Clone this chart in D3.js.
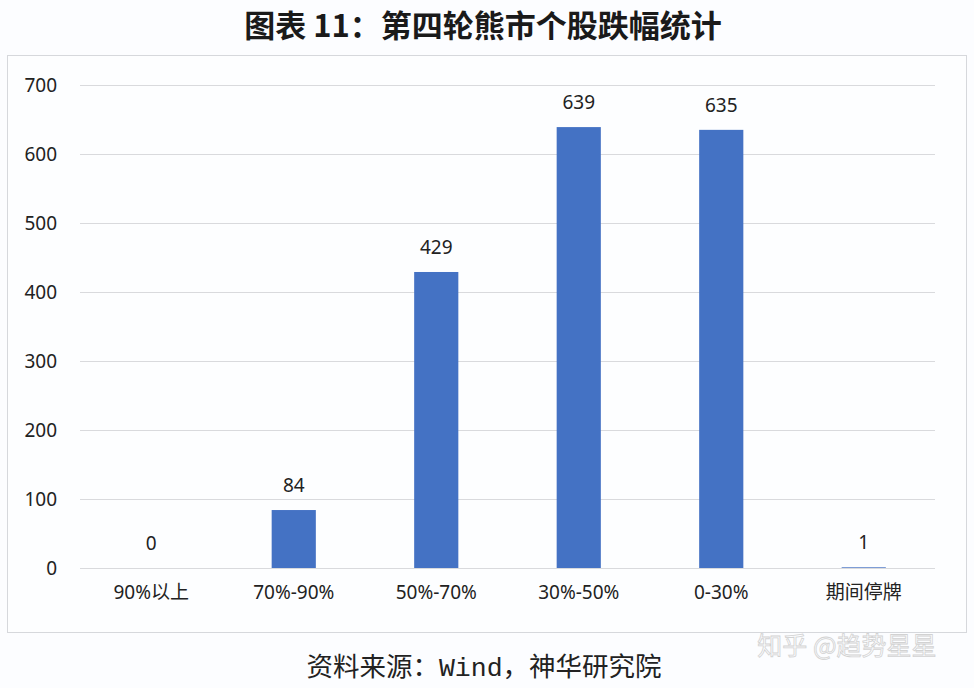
<!DOCTYPE html>
<html><head><meta charset="utf-8">
<script src="https://cdn.jsdelivr.net/npm/d3@7"></script>
<style>
html,body{margin:0;padding:0;background:#fcfdff;}
svg{display:block;}
</style></head>
<body>
<svg id="chart" width="974" height="688"></svg>
<script>
const categories = ["90%以上", "70%-90%", "50%-70%", "30%-50%", "0-30%", "期间停牌"];
const values = [0, 84, 429, 639, 635, 1];
const yTicks = [0, 100, 200, 300, 400, 500, 600, 700];
const title = "图表 11：第四轮熊市个股跌幅统计";

const svg = d3.select("#chart");
const W = 974, H = 688;
const m = {left: 80, right: 39, top: 85, bottom: 120};
const x = d3.scaleBand().domain(categories).range([m.left, W - m.right]).paddingInner(0.69).paddingOuter(0.345);
const y = d3.scaleLinear().domain([0, 700]).range([568, 85]);

// chart frame
svg.append("rect").attr("x", 7.5).attr("y", 55.5).attr("width", 959).attr("height", 577)
  .attr("fill", "#fdfeff").attr("stroke", "#d6d8dc").attr("stroke-width", 1);

// title
svg.append("text").attr("x", 483).attr("y", 37).attr("text-anchor", "middle")
  .attr("font-family", "Noto Sans CJK SC").attr("font-weight", "bold").attr("font-size", 31)
  .attr("fill", "#1a1a1a").text(title);

// grid
const yAxis = d3.axisLeft(y).tickValues(yTicks).tickSize(-(W - m.right - m.left)).tickPadding(23);
const gy = svg.append("g").attr("transform", `translate(${m.left},0)`).call(yAxis);
gy.select(".domain").remove();
gy.selectAll(".tick line").attr("stroke", "#d9dadd").attr("stroke-width", 1);
gy.selectAll(".tick text").attr("font-family", "Noto Sans").attr("font-size", 19).attr("fill", "#222");

// bars
svg.append("g").selectAll("rect").data(values).join("rect")
  .attr("x", (d, i) => x(categories[i]))
  .attr("y", d => y(d))
  .attr("width", x.bandwidth())
  .attr("height", d => y(0) - y(d))
  .attr("fill", "#4472C4");

// value labels
svg.append("g").selectAll("text").data(values).join("text")
  .attr("x", (d, i) => x(categories[i]) + x.bandwidth() / 2)
  .attr("y", d => y(d) - 18)
  .attr("text-anchor", "middle")
  .attr("font-family", "Noto Sans").attr("font-size", 19).attr("fill", "#222")
  .text(d => d);

// x axis labels
const xAxis = d3.axisBottom(x).tickSize(0).tickPadding(18);
const gx = svg.append("g").attr("transform", `translate(0,${y(0)})`).call(xAxis);
gx.select(".domain").remove();
gx.selectAll(".tick text").attr("font-family", "Noto Sans, Noto Sans CJK SC").attr("font-size", 19).attr("fill", "#222");

// source
const src = svg.append("text").attr("x", 484).attr("y", 676).attr("text-anchor", "middle")
  .attr("font-family", "Noto Sans CJK SC").attr("font-size", 26.5).attr("fill", "#222");
src.append("tspan").text("资料来源：");
src.append("tspan").attr("font-family", "Liberation Mono").text("Wind");
src.append("tspan").text("，神华研究院");

// watermark
svg.append("text").attr("x", 847).attr("y", 655).attr("text-anchor", "middle")
  .attr("font-family", "Noto Sans CJK SC").attr("font-size", 25).attr("fill", "none")
  .attr("stroke", "#d2d2d2").attr("stroke-width", 0.8).text("知乎 @趋势星星");
</script>
</body></html>
